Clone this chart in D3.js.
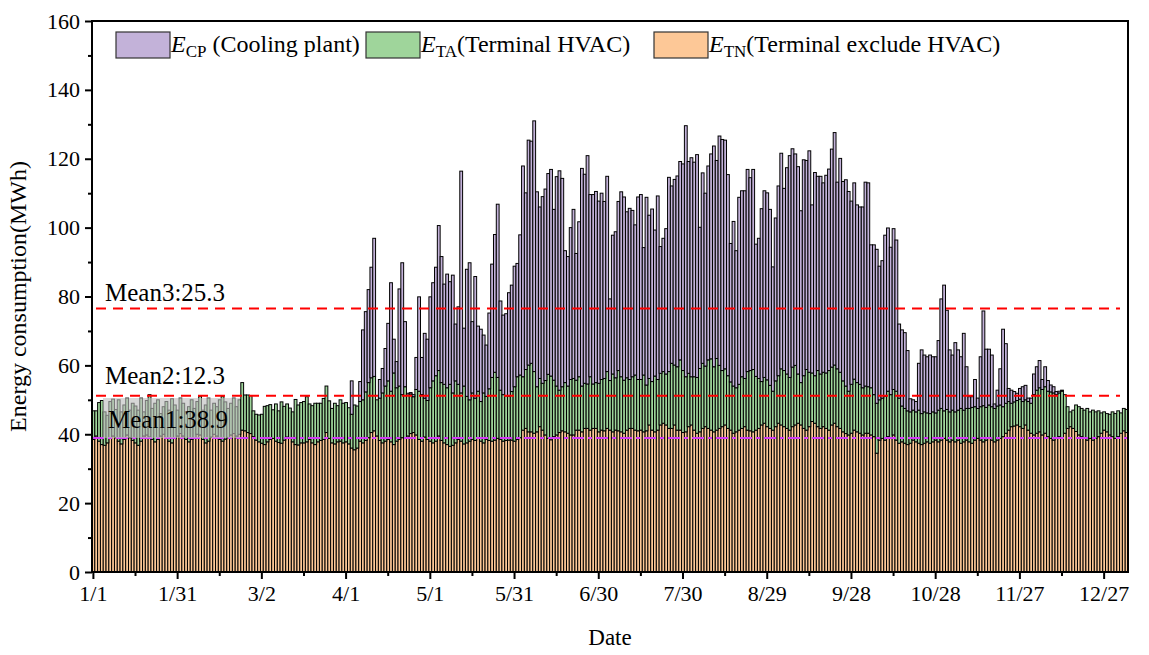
<!DOCTYPE html>
<html>
<head>
<meta charset="utf-8">
<title>Daily energy consumption</title>
<script src="https://cdn.jsdelivr.net/npm/d3@7/dist/d3.min.js"></script>
<style>
  html, body { margin: 0; padding: 0; background: #ffffff; }
  text { font-family: "Liberation Serif", "Times New Roman", Times, serif; fill: #000; }
</style>
</head>
<body>
<svg id="chart" width="1149" height="655"></svg>
<script>
// Daily energy use (MWh), one value per day starting 1 Jan.
// E_TN: terminal consumption excluding HVAC
const etn = [
  38.5,39.5,38.0,37.0,36.8,37.5,38.8,39.5,39.0,38.0,37.2,38.5,39.8,39.0,38.2,37.5,36.8,38.0,39.5,39.8,39.2,38.5,37.8,38.5,39.5,40.0,39.0,38.0,37.5,38.8,39.5,
  40.2,39.5,38.5,37.8,38.5,39.0,40.0,39.8,38.5,37.5,38.0,39.2,40.0,39.5,38.5,38.0,38.6,39.0,39.8,40.2,39.5,40.0,41.2,41.0,40.5,40.2,39.3,38.3,37.8,
  37.4,37.0,37.8,38.5,38.8,38.0,37.6,37.4,38.3,39.2,39.0,37.8,37.0,36.9,37.5,37.5,37.8,38.5,37.5,37.0,37.8,38.2,38.5,40.5,38.8,37.5,37.2,37.8,38.0,37.5,37.8,
  37.2,36.0,35.5,36.0,38.0,37.5,38.2,39.0,40.5,41.0,39.5,38.2,37.5,38.0,38.5,37.8,37.0,38.0,38.5,39.0,38.8,39.5,40.2,40.5,39.8,38.5,38.0,39.2,38.5,38.0,
  37.5,38.0,39.5,38.2,37.5,37.0,36.5,36.8,37.5,38.5,38.0,37.2,37.5,38.0,38.5,38.2,38.8,38.0,37.5,38.5,38.2,38.0,38.3,38.8,38.5,38.0,38.2,38.3,38.3,38.0,38.5,39.0,
  41.2,41.7,40.7,40.7,40.3,40.7,42.2,41.2,39.8,38.8,38.4,39.3,39.8,40.5,41.0,40.7,40.3,39.8,39.8,41.2,41.2,40.7,41.7,41.7,41.2,41.7,41.7,40.7,41.2,41.0,
  41.7,41.2,40.7,41.2,41.0,40.7,40.3,41.2,41.7,41.7,41.2,41.0,41.2,40.7,41.0,42.7,41.2,40.7,41.2,42.7,43.2,42.7,41.7,41.7,42.7,41.2,41.2,40.5,40.7,42.2,42.7,
  41.2,40.3,40.7,41.7,42.2,41.7,41.2,40.7,41.2,41.7,42.2,42.7,41.7,41.2,40.3,40.7,41.2,41.7,42.2,41.2,41.0,40.7,41.2,41.7,42.7,43.2,42.2,41.7,41.2,42.2,43.2,42.7,
  42.2,41.7,41.2,42.2,42.7,43.2,42.7,41.7,41.2,42.2,43.7,43.2,42.2,41.7,42.2,41.7,41.2,42.7,43.2,42.2,41.7,40.7,40.2,39.8,40.3,41.2,40.7,40.3,39.8,40.3,
  40.3,39.8,39.3,34.5,38.3,38.8,38.3,39.3,38.8,39.8,38.3,37.4,37.8,37.4,37.0,37.4,38.3,37.8,37.4,37.0,37.4,37.8,37.4,37.8,38.3,37.8,38.3,38.8,38.3,37.8,38.3,
  37.8,38.3,37.4,37.8,38.3,37.8,37.4,38.3,38.8,38.3,37.8,38.3,38.8,38.3,37.8,38.3,38.8,39.3,40.3,41.2,42.2,42.4,42.7,42.2,41.7,42.7,41.2,40.3,39.8,40.3,40.7,
  39.8,40.3,39.3,38.8,38.3,38.8,39.3,38.8,40.3,41.7,42.2,41.7,40.8,39.8,39.3,38.8,38.3,38.8,38.3,38.8,39.3,40.3,41.2,40.7,39.8,39.3,38.8,39.3,40.3,41.0,40.5
];
// E_TA: terminal HVAC
const eta = [
  8.3,7.3,11.2,12.8,9.7,8.0,10.7,10.7,8.2,12.0,9.3,10.0,10.7,8.0,10.8,10.7,10.2,12.5,7.0,10.0,12.3,9.0,11.2,11.5,6.5,8.0,10.5,9.0,12.8,9.7,7.5,
  10.3,9.5,8.0,10.2,11.5,8.5,9.5,11.2,8.5,11.0,12.5,7.8,9.0,8.5,11.5,13.0,10.8,8.5,9.2,10.3,8.5,10.0,13.8,10.4,10.9,11.0,7.5,7.5,7.8,
  8.4,11.1,10.5,10.1,8.3,10.8,9.2,12.0,9.8,9.6,8.6,8.7,13.1,11.6,11.7,12.0,13.1,10.3,10.8,12.0,11.2,10.8,11.9,13.5,10.9,10.0,11.8,10.5,12.0,11.5,11.4,
  10.5,9.8,13.0,12.2,11.5,12.5,14.1,16.0,15.9,15.8,10.5,12.3,14.5,16.0,17.0,14.7,20.8,15.5,15.5,12.5,15.0,11.9,11.5,10.4,13.2,14.0,13.5,11.3,11.3,15.5,
  18.0,19.0,19.0,16.8,17.0,16.5,18.0,15.2,18.0,16.0,14.0,16.8,13.5,12.0,13.5,12.3,13.7,11.5,14.5,12.5,15.0,18.5,19.7,17.7,14.3,13.5,13.0,12.8,14.1,15.8,18.2,18.2,
  15.5,17.1,19.4,19.9,17.9,13.1,14.0,13.6,15.8,18.6,18.5,16.4,14.2,12.3,12.8,14.3,13.7,16.1,16.4,14.5,15.5,13.3,13.1,12.9,15.5,12.9,13.3,14.1,14.7,15.2,
  16.5,14.4,16.8,15.2,17.5,16.0,15.4,15.2,14.2,15.0,16.0,14.9,14.7,16.5,13.3,13.5,14.1,16.2,14.7,15.0,15.0,14.8,16.5,18.9,17.4,18.4,20.4,18.0,16.0,15.5,14.0,
  15.5,16.2,18.4,18.9,17.6,19.9,20.7,18.9,20.8,18.3,16.3,16.3,15.3,14.0,13.7,12.8,13.3,15.0,14.0,17.0,17.5,18.1,15.6,14.5,12.6,13.3,13.6,12.5,11.3,13.3,13.8,16.3,
  16.3,15.8,15.3,17.3,17.3,14.3,12.3,15.3,17.6,15.8,14.1,13.8,16.3,15.8,15.8,16.1,17.3,16.8,16.9,16.8,16.3,14.8,13.8,12.7,14.2,14.8,14.3,14.2,13.7,13.7,
  13.5,13.7,12.2,14.5,11.7,11.7,12.7,13.2,12.7,13.2,14.2,13.1,10.4,10.1,9.8,9.1,8.7,8.7,9.6,9.0,9.1,8.4,8.6,8.7,7.9,9.2,9.2,8.0,8.9,8.7,8.7,
  8.7,8.7,10.1,9.2,9.2,9.7,10.4,9.7,8.7,9.7,10.5,9.5,9.7,9.7,9.7,9.9,9.7,8.7,8.7,8.3,6.8,7.0,7.1,8.0,7.8,7.3,8.3,8.7,11.7,12.5,12.8,
  13.2,13.5,13.2,13.5,13.7,12.7,12.7,13.7,11.2,6.3,4.3,5.3,7.7,8.2,8.2,8.2,9.2,7.7,8.7,7.7,7.5,5.9,5.3,5.3,6.0,7.2,7.2,7.5,5.9,6.5,6.7
];
// E_CP: cooling plant
const ecp = [
  0,0,0,0,0,0,0,0,0,0,0,0,0,0,0,0,0,0,0,0,0,0,0,0,0,0,0,0,0,0,0,
  0,0,0,0,0,0,0,0,0,0,0,0,0,0,0,0,0,0,0,0,0,0,0,0,0,0,0,0,0,
  0,0,0,0,0,0,0,0,0,0,0,0,0,0,0,0,0,0,0,0,0,0,0,0,0,0,0,0,0,0,0,
  0,9.7,0,0,5.8,20.3,23.3,27.0,32.1,40.1,0,5.4,7.1,10.9,16.7,31.5,9.8,7.6,28.2,38.3,18.9,0.5,0.4,0.6,9.3,27.4,10.8,18.8,17.8,26.4,
  28.5,31.5,42.1,36.6,29.1,33.0,29.8,34.2,16.5,22.5,64.4,16.8,36.9,39.8,20.7,35.3,18.9,21.0,16.8,14.9,22.0,32.9,40.0,50.3,25.9,23.1,23.8,30.0,30.9,35.0,32.9,40.7,
  61.2,51.3,65.3,64.5,72.8,56.6,49.8,54.2,55.6,58.3,60.0,49.6,60.8,63.7,60.5,38.3,37.6,44.1,49.1,36.8,45.0,63.2,60.7,66.3,52.9,55.0,55.5,52.9,54.1,51.4,
  56.7,23.7,40.3,42.4,49.1,53.7,53.2,48.2,49.7,48.3,43.6,53.0,53.7,37.0,54.5,47.4,50.1,42.4,53.3,36.8,38.7,42.2,56.4,51.5,53.9,55.4,57.6,60.0,72.9,61.5,63.6,
  62.3,64.7,41.0,55.3,50.2,56.3,59.5,64.1,57.5,66.6,67.1,66.4,58.4,40.2,47.8,39.8,54.3,54.0,54.5,58.7,56.0,58.1,38.4,40.7,50.2,54.2,54.3,51.1,36.1,47.3,55.1,62.6,
  52.9,59.9,64.4,63.4,61.4,60.2,49.9,62.7,60.7,64.3,48.8,59.0,56.4,57.4,55.0,57.4,58.5,63.3,67.5,54.2,62.1,57.9,59.9,58.0,53.2,57.0,51.6,51.5,52.5,59.2,
  59.2,41.5,43.5,44.7,38.8,39.9,46.8,47.4,42.8,46.7,43.9,21.5,22.1,22.0,17.5,3.8,3.0,3.0,13.6,18.5,16.5,16.3,17.0,16.0,16.3,20.2,31.8,36.5,28.8,18.0,16.0,
  20.1,17.5,15.0,22.3,12.1,3.4,3.1,7.9,3.0,14.5,27.5,16.9,16.2,15.0,1.3,4.6,10.5,22.5,17.3,3.8,3.8,3.0,2.1,3.1,4.3,4.2,1.0,1.5,6.0,6.8,7.9,
  2.9,5.8,3.1,2.0,1.8,0.9,0.5,0.3,0,0,0,0,0,0,0,0,0,0,0,0,0,0,0,0,0,0,0,0,0,0,0
];

// Date tick labels, one every 30 days starting 1 Jan
const tickLabels = ["1/1","1/31","3/2","4/1","5/1","5/31","6/30","7/30","8/29","9/28","10/28","11/27","12/27"];
const tickStep = 30;

// Annual means of each component (MWh/day)
const meanNames  = ["Mean1", "Mean2", "Mean3"];
const meanValues = [38.9, 12.3, 25.3];

// Legend entries: symbol, subscript, description
const legendSymbols = ["E", "E", "E"];
const legendSubs    = ["CP", "TA", "TN"];
const legendDescs   = [" (Cooling plant)", "(Terminal HVAC)", "(Terminal exclude HVAC)"];

// ---------------------------------------------------------------------------
const colors = { etn: "#fdc897", eta: "#9fd59b", ecp: "#c3b2d9" };
const plot = { left: 92, right: 1128, top: 21, bottom: 572 };

const nDays = etn.length;
const rows = d3.range(nDays).map(i => ({ day: i, etn: etn[i], eta: eta[i], ecp: ecp[i] }));
const layers = d3.stack().keys(["etn", "eta", "ecp"])(rows);

const x = d3.scaleBand().domain(d3.range(nDays)).range([plot.left, plot.right]).padding(0);
const y = d3.scaleLinear().domain([0, 160]).range([plot.bottom, plot.top]);

const svg = d3.select("#chart");

// Stacked daily bars
const barG = svg.append("g");
layers.forEach(layer => {
  barG.append("g")
    .attr("fill", colors[layer.key])
    .attr("stroke", "#000")
    .attr("stroke-width", 1)
    .selectAll("rect")
    .data(layer.filter(d => d[1] - d[0] > 0))
    .join("rect")
      .attr("x", d => x(d.data.day))
      .attr("width", x.bandwidth())
      .attr("y", d => y(d[1]))
      .attr("height", d => y(d[0]) - y(d[1]));
});

// Mean reference lines at the cumulative levels
const cum = [meanValues[0], meanValues[0] + meanValues[1], meanValues[0] + meanValues[1] + meanValues[2]];
const meanG = svg.append("g");
meanG.append("line")
  .attr("x1", plot.left).attr("x2", plot.right)
  .attr("y1", y(cum[0])).attr("y2", y(cum[0]))
  .attr("stroke", "#d23cf5").attr("stroke-width", 2)
  .attr("stroke-dasharray", "12 4 4 4");
[1, 2].forEach(k => {
  meanG.append("line")
    .attr("x1", plot.left + 4).attr("x2", plot.right - 8)
    .attr("y1", y(cum[k])).attr("y2", y(cum[k]))
    .attr("stroke", "#ff0000").attr("stroke-width", 2)
    .attr("stroke-dasharray", "10 7");
});

// Mean labels; Mean1 sits on a translucent grey plate over the bars
const fmt = d3.format(".1f");
meanG.append("rect")
  .attr("x", 103).attr("y", y(cum[0]) - 40)
  .attr("width", 137).attr("height", 40)
  .attr("fill", "#bdbdbd").attr("fill-opacity", 0.62);
meanG.append("text")
  .attr("x", 108).attr("y", y(cum[0]) - 10)
  .attr("font-size", 25)
  .text(`${meanNames[0]}:${fmt(meanValues[0])}`);
meanG.append("text")
  .attr("x", 105).attr("y", y(cum[1]) - 12)
  .attr("font-size", 25)
  .text(`${meanNames[1]}:${fmt(meanValues[1])}`);
meanG.append("text")
  .attr("x", 105).attr("y", y(cum[2]) - 8)
  .attr("font-size", 25)
  .text(`${meanNames[2]}:${fmt(meanValues[2])}`);

// Axes
const yAxis = d3.axisLeft(y).tickValues(d3.range(0, 161, 20)).tickSize(7).tickPadding(5);
const yMinor = d3.axisLeft(y).tickValues(d3.range(10, 160, 20)).tickSize(4).tickFormat("");
const xAxis = d3.axisBottom(x).tickValues(d3.range(0, tickLabels.length * tickStep, tickStep))
  .tickSize(7).tickPadding(6)
  .tickFormat((d, i) => tickLabels[i]);
const xMinor = d3.axisBottom(x).tickValues(d3.range(tickStep / 2, nDays, tickStep)).tickSize(4).tickFormat("");

function styleAxis(g) {
  g.select(".domain").remove();
  g.selectAll(".tick line").attr("stroke", "#000").attr("stroke-width", 2);
  g.selectAll(".tick text")
    .attr("font-family", '"Liberation Serif", "Times New Roman", serif')
    .attr("font-size", 22).attr("fill", "#000");
}
svg.append("g").attr("transform", `translate(${plot.left},0)`).call(yAxis).call(styleAxis);
svg.append("g").attr("transform", `translate(${plot.left},0)`).call(yMinor).call(styleAxis);
svg.append("g").attr("transform", `translate(0,${plot.bottom})`).call(xAxis).call(styleAxis);
svg.append("g").attr("transform", `translate(0,${plot.bottom})`).call(xMinor).call(styleAxis);

// Frame
svg.append("rect")
  .attr("x", plot.left).attr("y", plot.top)
  .attr("width", plot.right - plot.left).attr("height", plot.bottom - plot.top)
  .attr("fill", "none").attr("stroke", "#000").attr("stroke-width", 2);

// Axis titles
svg.append("text")
  .attr("transform", `translate(26,${(plot.top + plot.bottom) / 2}) rotate(-90)`)
  .attr("text-anchor", "middle").attr("font-size", 24)
  .text("Energy consumption(MWh)");
svg.append("text")
  .attr("x", (plot.left + plot.right) / 2).attr("y", 645)
  .attr("text-anchor", "middle").attr("font-size", 23)
  .text("Date");

// Legend (order: cooling plant, terminal HVAC, terminal excluding HVAC)
const legendKeys = ["ecp", "eta", "etn"];
const legendX = [116, 366, 654];
const ly = 32, sw = 54, sh = 26;
const legendG = svg.append("g");
legendKeys.forEach((key, i) => {
  legendG.append("rect")
    .attr("x", legendX[i]).attr("y", ly).attr("width", sw).attr("height", sh)
    .attr("fill", colors[key]).attr("stroke", "#333").attr("stroke-width", 1.2);
  const t = legendG.append("text")
    .attr("x", legendX[i] + sw + 1).attr("y", ly + 20)
    .attr("font-size", 24);
  t.append("tspan").attr("font-style", "italic").text(legendSymbols[i]);
  t.append("tspan").attr("font-size", 17).attr("dy", 5).text(legendSubs[i]);
  t.append("tspan").attr("dy", -5).text(legendDescs[i]);
});
</script>
</body>
</html>
